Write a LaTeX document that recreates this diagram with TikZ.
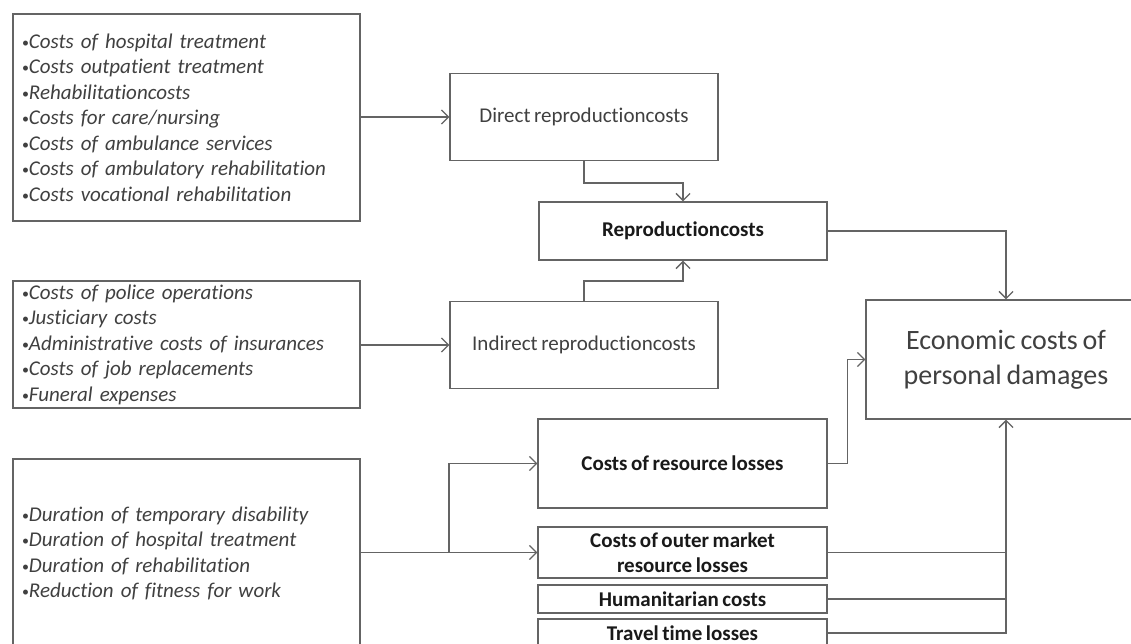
\documentclass[tikz,border=0pt]{standalone}
\usepackage{fontspec}
\setmainfont{Carlito}[Ligatures=NoCommon, WordSpace=0.75]
\usetikzlibrary{arrows.meta}
\definecolor{linegray}{RGB}{100,100,100}
\definecolor{txtgray}{RGB}{64,64,64}
\definecolor{txtdark}{RGB}{25,25,25}
\newcommand\mybul{{\upshape\fontsize{14}{14}\selectfont\raisebox{1pt}{•}}}
\begin{document}
\begin{tikzpicture}[x=1pt,y=-1pt,
  box/.style={draw=linegray, line width=1.3pt, rectangle, inner sep=0pt, fill=white},
  listbox/.style={box, minimum width=347pt, align=left, text width=329pt,
    font=\fontsize{21}{25.5}\selectfont\itshape, text=txtgray},
  midbox/.style={box, align=center, font=\fontsize{21}{25.5}\selectfont, text=txtgray},
  boldbox/.style={box, align=center, font=\fontsize{21}{25}\selectfont\bfseries, text=txtdark},
  bigbox/.style={box, align=center, font=\fontsize{28}{35}\selectfont, text=txtgray},
  conn/.style={draw=linegray, line width=1.3pt},
  arr/.style={conn, -{Straight Barb[length=7pt,width=14pt]}}
]
\useasboundingbox[fill=white] (0,0) rectangle (1131,644);

% left list boxes
\node[listbox, minimum height=207pt] (box1) at (186.5,117.5) {%
\mybul Costs of hospital treatment\\
\mybul Costs outpatient treatment\\
\mybul Rehabilitationcosts\\
\mybul Costs for care/nursing\\
\mybul Costs of ambulance services\\
\mybul Costs of ambulatory rehabilitation\\
\mybul Costs vocational rehabilitation};

\node[listbox, minimum height=127pt] (box2) at (186.5,344.5) {%
\mybul Costs of police operations\\
\mybul Justiciary costs\\
\mybul Administrative costs of insurances\\
\mybul Costs of job replacements\\
\mybul Funeral expenses};

\node[listbox, minimum height=189pt] (box3) at (186.5,553.5) {%
\mybul Duration of temporary disability\\
\mybul Duration of hospital treatment\\
\mybul Duration of rehabilitation\\
\mybul Reduction of fitness for work};

% middle boxes
\node[midbox, minimum width=268pt, minimum height=87pt] (direct) at (584,117) {Direct reproductioncosts};
\node[midbox, minimum width=268pt, minimum height=87pt] (indirect) at (584,345) {Indirect reproductioncosts};
\node[boldbox, minimum width=288pt, minimum height=58pt] (repro) at (683,231) {Reproductioncosts};

\node[boldbox, minimum width=289pt, minimum height=89pt] (res) at (682.5,463.5) {Costs of resource losses};
\node[boldbox, minimum width=289pt, minimum height=51pt] (outer) at (682.5,552.5) {Costs of outer market\\resource losses};
\node[boldbox, minimum width=289pt, minimum height=28pt] (hum) at (682.5,599) {Humanitarian costs};
\node[boldbox, minimum width=289pt, minimum height=28pt] (travel) at (682.5,633) {Travel time losses};

% target box
\node[bigbox, minimum width=280pt, minimum height=119pt] (econ) at (1006,359.5) {Economic costs of\\personal damages};

% connectors
\draw[arr] (box1.east |- direct.west) -- (direct.west);
\draw[arr] (box2.east |- indirect.west) -- (indirect.west);
\draw[arr] (direct.south) -- ++(0,22) -| (repro.north);
\draw[arr] (indirect.north) -- ++(0,-20) -| (repro.south);
\draw[arr] (repro.east) -| (econ.north);

\draw[arr] (box3.east |- outer.west) -- (outer.west);
\coordinate (split) at (449,552.5);
\draw[arr] (split) |- (res.west);

\draw[arr] (res.east) -- ++(20,0) |- (econ.west);
\draw[conn] (outer.east) -- (outer.east -| econ.south);
\draw[conn] (hum.east) -- (hum.east -| econ.south);
\draw[arr] (travel.east) -| (econ.south);
\end{tikzpicture}
\end{document}
